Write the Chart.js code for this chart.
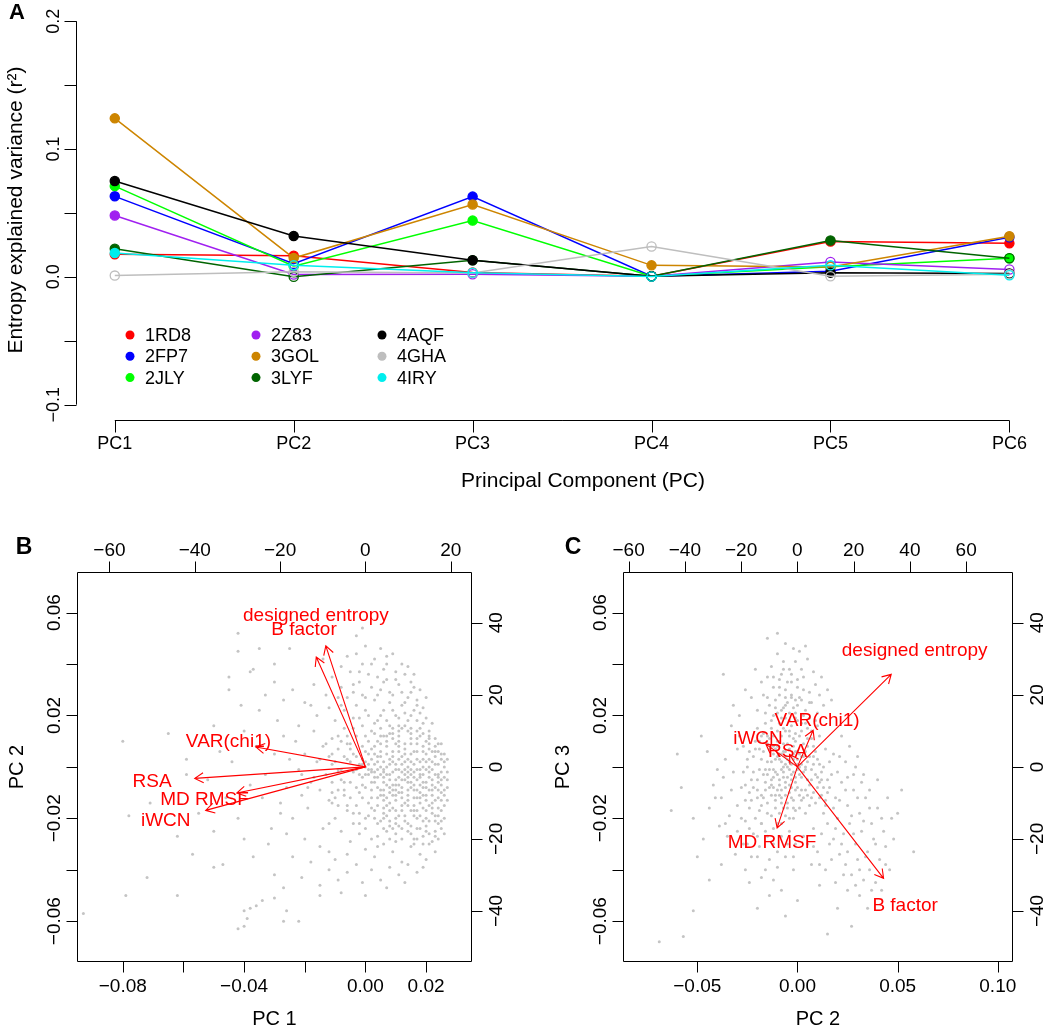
<!DOCTYPE html>
<html>
<head>
<meta charset="utf-8">
<script src="https://cdn.jsdelivr.net/npm/chart.js@4.4.1/dist/chart.umd.min.js"></script>
<style>
  body { margin: 0; background: #fff; }
  #wrap { position: relative; width: 1050px; height: 1028px; }
  canvas { position: absolute; }
</style>
</head>
<body>
<div id="wrap">
  <canvas id="chartA" width="1050" height="510" style="left:0;top:0;"></canvas>
  <canvas id="chartB" width="525" height="508" style="left:0;top:520px;"></canvas>
  <canvas id="chartC" width="525" height="508" style="left:525px;top:520px;"></canvas>
</div>
<script>
// ---------- panel A data ----------
const pcLabels = ['PC1', 'PC2', 'PC3', 'PC4', 'PC5', 'PC6'];
const structures = ['1RD8', '2FP7', '2JLY', '2Z83', '3GOL', '3LYF', '4AQF', '4GHA', '4IRY'];
const seriesColors = ['#ff0000', '#0000ff', '#00ff00', '#a020f0', '#cd8500', '#006400', '#000000', '#bebebe', '#00eeee'];

const r2_1RD8 = [0.0176, 0.0165, 0.0035, 0.0005, 0.0277, 0.0262];
const r2_2FP7 = [0.0630, 0.0103, 0.0628, 0.0005, 0.0044, 0.0310];
const r2_2JLY = [0.0710, 0.0083, 0.0440, 0.0005, 0.0080, 0.0145];
const r2_2Z83 = [0.0480, 0.0018, 0.0020, 0.0005, 0.0116, 0.0057];
const r2_3GOL = [0.1240, 0.0147, 0.0566, 0.0090, 0.0077, 0.0318];
const r2_3LYF = [0.0220, 0.0000, 0.0130, 0.0005, 0.0284, 0.0145];
const r2_4AQF = [0.0750, 0.0320, 0.0130, 0.0005, 0.0033, 0.0026];
const r2_4GHA = [0.0010, 0.0040, 0.0030, 0.0238, 0.0005, 0.0020];
const r2_4IRY = [0.0186, 0.0090, 0.0033, 0.0003, 0.0090, 0.0013];

// 1 = filled dot, 0 = open circle
const sig_1RD8 = [1, 1, 0, 0, 1, 1];
const sig_2FP7 = [1, 0, 1, 0, 0, 1];
const sig_2JLY = [1, 0, 1, 0, 0, 1];
const sig_2Z83 = [1, 0, 0, 0, 0, 0];
const sig_3GOL = [1, 1, 1, 1, 0, 1];
const sig_3LYF = [1, 0, 0, 0, 1, 0];
const sig_4AQF = [1, 1, 1, 0, 1, 0];
const sig_4GHA = [0, 0, 0, 0, 0, 0];
const sig_4IRY = [1, 0, 0, 0, 0, 0];

const yTicksA = [-0.1, -0.05, 0, 0.05, 0.1, 0.15, 0.2];
const yLabelsA = [-0.1, 0, 0.1, 0.2];

// ---------- panels B / C data ----------
const loadingNames = ['designed entropy', 'B factor', 'VAR(chi1)', 'RSA', 'MD RMSF', 'iWCN'];
const loadB_pc1 = [-11.6, -14.4, -32.1, -50.0, -37.7, -46.8];
const loadB_pc2 = [42.0, 38.1, 6.9, -4.0, -9.1, -15.1];
const loadC_pc2 = [41.7, 38.3, 7.0, -3.5, -9.0, -14.0];
const loadC_pc3 = [32.1, -38.7, 12.7, 4.3, -21.2, 7.9];

const xTicksB = [-0.08, -0.06, -0.04, -0.02, 0, 0.02];
const xLabelsB = [-0.08, -0.04, 0, 0.02];
const xTicksC = [-0.05, 0, 0.05, 0.1];
const yTicksBC = [-0.06, -0.04, -0.02, 0, 0.02, 0.04, 0.06];
const yLabelsBC = [-0.06, -0.02, 0.02, 0.06];
const topTicksB = [-60, -40, -20, 0, 20];
const topTicksC = [-60, -40, -20, 0, 20, 40, 60];
const rightTicksBC = [-40, -20, 0, 20, 40];

// residue scores, in thousandths: [PC1, PC2]
const scoresB = [
  [2,3],[4,-1],[6,2],[8,-3],[10,1],[12,-2],[14,0],[16,-4],[18,2],[20,-1],[22,-5],[24,1],[3,-6],[5,-9],[7,-12],[9,-7],[11,-10],[13,-14],[15,-8],[17,-12],
  [19,-16],[21,-9],[23,-13],[25,-7],[1,5],[3,8],[5,6],[7,10],[9,4],[11,8],[13,5],[15,9],[17,6],[19,3],[21,7],[23,4],[25,-2],[2,-12],[4,-15],[6,-18],
  [8,-14],[10,-20],[12,-17],[14,-22],[16,-19],[18,-24],[20,-20],[22,-18],[24,-22],[26,-15],[1,-3],[3,1],[5,-3],[7,0],[9,-2],[11,3],[13,-5],[15,2],[17,-1],[19,-6],
  [21,0],[23,-3],[25,3],[0,-8],[2,-9],[6,-6],[8,-10],[10,-5],[12,-8],[14,-11],[16,-9],[18,-10],[20,-13],[22,-11],[24,-9],[26,-4],[5,12],[8,13],[11,12],[14,14],
  [17,11],[20,10],[23,8],[4,-22],[7,-25],[11,-23],[15,-26],[19,-27],[23,-25],[26,-20],[13,-1],[15,-3],[17,3],[19,-3],[21,-4],[22,2],[24,-12],[18,-7],[16,-15],[14,-6],
  [12,4],[10,-13],[9,6],[6,-1],[4,4],[20,5],[24,6],[25,-10],[21,-15],[18,-19],[15,-17],[12,-12],[10,9],[7,5],[3,-2],[1,-14],[0,2],[-1,-4],[19,8],[22,-7],
  [17,-20],[13,-19],[9,-16],[6,-13],[16,6],[26,0],[25,-17],[23,-19],[20,-23],[27,-8],[14,3],[11,-4],[8,1],[5,-11],
  [1,1],[3,-4],[5,0],[7,-7],[9,2],[11,-1],[13,2],[15,-6],[17,-9],[19,0],[21,3],[23,-8],[25,5],[2,7],[4,10],[6,-16],[8,-21],[10,-17],[12,-24],[14,-15],
  [16,-12],[18,-14],[20,-17],[22,-14],[24,-16],[26,-11],[27,-2],[26,5],[24,9],[22,6],[20,-8],[18,-4],[16,1],[14,-9],[12,-5],[10,-9],[8,-5],[6,-9],[4,-8],[2,-6],
  [0,-3],[-1,3],[1,10],[3,13],[5,15],[7,-19],[9,-24],[11,-19],[13,-21],[15,-23],[17,-24],[19,-21],[21,-21],[23,-21],[25,-24],[27,-13],[21,-26],[11,6],[13,9],[15,5],
  [17,-17],[19,-11],[9,-11],[7,-15],[5,-21],[3,-17],[1,-19],[-2,-10],[-3,-15],[-4,5],[-5,-6],[-6,9],[-7,-11],[-8,-1],[-9,12],[-10,-12],[-11,1],[-12,-22],[6,12],[9,11],
  [12,15],[15,13],[18,12],[21,11],[24,-4],[26,-26],[22,-29],[16,-30],[10,-26],[4,-31],
  [13,-3],[15,-1],[17,-5],[19,-8],[21,-2],[23,1],[25,-5],[11,-7],[9,-9],[7,-3],[14,-13],[16,-17],[18,-12],[20,-11],[22,-16],[24,-19],[12,-15],[10,-11],[8,-17],[6,-11],
  [13,7],[15,11],[17,9],[19,6],[21,9],[23,6],[11,10],[9,13],[7,8],[5,4],[14,-25],[17,-28],[20,-25],[23,-27],[25,-21],[19,-30],[12,-28],[8,-28],[6,-24],[3,-20],
  [1,-1],[-1,1],[0,6],[2,-2],[4,2],[6,-4],[8,3],[10,-1],[12,1],[14,-4],[16,-2],[18,-1],[20,2],[22,-1],[24,-3],[26,2],[3,5],[5,9],[7,12],[9,15],
  [11,14],[13,16],[15,15],[17,14],[19,13],[21,12],[23,11],[25,9],[27,3],[27,-5],[26,-9],[25,-13],[24,-6],[22,-9],[20,-6],[18,-3],[16,-7],[14,-2],[12,-10],[10,-7],
  [8,-8],[6,-2],[4,-4],[2,-1],[0,0],[-2,-3],[-3,-1],[-5,2],[-7,-6],[-9,-9],[-11,-14],[-6,-15],[-4,-18],[-2,-22],[0,-24],[2,-16],[4,-12],[6,-20],[8,-23],[10,-22],
  [-1,-7],[-3,4],[-5,7],[-7,4],[-9,-1],[-11,5],[-13,9],[-15,3],[-17,-4],[-19,-8],[-21,-3],[-8,10],[-6,12],[-4,15],[-2,19],[0,22],[3,17],[5,20],[7,18],[9,22],
  [11,19],[13,25],[15,20],[17,24],[19,17],[8,29],[4,28],[0,27],[-4,29],[-8,24],[12,29],[16,31],[20,27],[10,34],[6,33],[2,40],[-2,37],[7,43],[14,39],[18,21],
  [-2,1],[-4,-2],[-6,3],[-8,-5],[-10,2],[-3,-8],[-5,-12],[-7,-9],[-9,-15],[-11,-6],[-1,8],[-3,12],[-5,9],[-7,15],[-9,7],[-11,11],[-2,-18],[-4,-22],[-6,-17],[-8,-25],
  [-10,-20],[-12,-13],[-1,16],[-4,19],[-7,22],[-10,18],[-12,4],[-2,-26],[-5,-29],[-3,24],[-6,27],[-9,-2],[-11,-10],[0,12],[0,-20],[1,20],[2,-28],[-1,-12],[-13,-3],[-14,8],
  [-15,-9],[-16,2],[-17,14],[-18,-6],[-19,-16],[-20,5],[-21,-11],[-22,-1],[-23,10],[-24,-20],[-14,-24],[-16,20],[-18,24],[-20,-28],[-22,16],[-13,28],[-15,-31],[-25,3],[-26,-8],[-27,12],
  [-28,-14],[-12,-33],[-8,31],[-4,32],[-1,28],[-6,-34],[-10,-36],
  [2,14],[4,18],[6,22],[8,16],[10,20],[12,24],[14,18],[16,22],[18,15],[20,19],[3,26],[5,30],[7,34],[9,28],[11,32],[13,36],[15,29],[17,26],[19,23],[21,14],
  [1,36],[-1,40],[3,42],[6,38],[9,44],[12,40],[15,33],[18,30],[-2,33],[-5,37],[-8,39],[-11,35],[-14,42],[-3,44],[0,47],[5,46],[10,37],[16,36],[14,27],[8,25],
  [2,31],[-6,43],[-17,32],[-20,25],[-12,23],[4,35],[7,40],[11,16],[13,21],[17,18],[22,17],[-9,27],
  [-42,52],[-35,46],[-25,46],[-3,51],[-1,54],[-30,40],[-38,37],[-45,30],[-33,28],
  [0,-32],[3,-35],[6,-30],[9,-33],[12,-37],[15,-31],[18,-34],[21,-30],[24,-28],[2,-40],[5,-44],[8,-39],[11,-42],[14,-38],[17,-41],[20,-36],[-3,-38],[-6,-41],[-9,-44],[-12,-40],
  [-15,-46],[-18,-37],[7,-47],[13,-45],[19,-39],[23,-33],[-1,-45],[4,-27],[10,-29],[16,-28],[-21,-43],[-24,-35],[-27,-47],[-30,-42],[-8,-49],[0,-50],[-30,-51],[-34,-52],[-40,-56],[-26,-56],
  [-22,-60],[-40,-62],
  [-42,45],[-45,35],[-37,38],[-41,24],[-50,16],[-65,13],[-80,10],[-59,3],[-59,-3],[-71,-14],[-78,-19],[-62,-27],[-57,-34],[-50,-39],[-47,-38],[-72,-43],[-79,-50],[-62,-50],[-93,-57],[-42,-63],
  [-38,-55],[-36,-54],[-27,-60],[-15,-50],[-39,-59],
  [-30,5],[-33,-3],[-36,8],[-28,-18],[-31,-24],[-34,-12],[-38,-7],[-40,14],[-42,-20],[-44,2],[-29,18],[-32,-30],[-37,-35],[-26,-26],[-35,22],[-40,-28],[-46,-12],[-48,6],[-52,-5],[-50,-25],
  [-55,-18],[-53,12],[-27,26],[-24,30],[-30,33]
];

// residue scores, in thousandths: [PC2, PC3]
const scoresC = [
  [-5,0],[-3,4],[-8,2],[-10,-3],[-6,-6],[-2,-2],[0,3],[2,-4],[4,6],[-12,5],[-14,-1],[-16,-6],[-18,3],[-7,9],[-4,12],[-1,10],[2,14],[5,11],[8,8],[10,3],
  [12,-2],[-20,-9],[-22,-2],[-11,-11],[-8,-14],[-4,-10],[0,-8],[3,-12],[6,-7],[9,-3],[-15,-14],[-19,-17],[-13,-19],[-9,-18],[-5,-16],[-2,-20],[1,-16],[-24,6],[-21,10],[-17,13],
  [-13,15],[-9,17],[-6,19],[-3,16],[0,18],[4,17],[7,14],[11,12],[14,7],[13,0],[15,-5],[-1,6],[-6,4],[-9,-7],[-12,-1],[-3,-5],[1,0],[-7,-2],[-10,8],[-15,9],
  [-4,7],[-2,-13],[-17,-3],[-23,-13],[-25,0],[5,2],[7,-1],[3,9],[-8,12],[-11,-16],[-14,11],[-6,-11],[-1,-4],[8,-10],[11,-6],[6,-15],[2,-9],[-16,17],[-20,15],[10,16],
  [-12,-8],[-5,3],[-3,1],[-9,5],[-7,-4],[0,-1],[-2,8],[-18,-11],[-21,-20],[-24,-16],[4,-18],[9,-14],[12,-11],[14,-15],[16,2],[-26,-7],[-27,8],[-10,14],[-13,-5],[-6,14],
  [3,-2],[-1,13],[-4,-7],[-8,-9],[-15,2],[5,-5],[8,4],[1,5],[-11,3],[-19,7],
  [-4,-1],[-6,1],[-8,-1],[-10,4],[-12,-4],[-2,3],[0,6],[2,1],[-5,9],[-7,6],[-9,-5],[-11,7],[-13,2],[-16,-1],[-3,-8],[-1,-6],[1,-3],[4,-1],[6,4],[-6,-8],
  [-8,-12],[-10,-9],[-14,-8],[-17,-12],[-20,-5],[-22,4],[-19,10],[-14,7],[-12,12],[-9,10],[-7,15],[-4,14],[-2,11],[1,12],[3,4],[5,8],[8,1],[10,-4],[13,-8],[11,-12],
  [7,-12],[4,-9],[1,-11],[-2,-16],[-6,-19],[-10,-22],[-15,-18],[-18,-22],[-24,-10],[-4,18],[-8,19],[-12,20],[-1,21],[3,20],[6,19],[9,18],[-6,24],[-3,27],[0,24],[-9,28],
  [-5,33],
  [-3,-3],[-5,-4],[-7,0],[-9,3],[-11,-2],[-13,-7],[-15,-3],[-4,2],[-6,6],[-8,5],[-10,10],[-12,8],[-2,5],[0,1],[2,4],[4,0],[-1,-9],[-3,-12],[-5,-14],[-7,-16],
  [-9,-11],[-11,-13],[-13,-11],[-16,-9],[-18,-15],[-20,-12],[-22,-8],[-19,-1],[-17,6],[-15,12],[-13,18],[-10,21],[-7,23],[-4,21],[-1,19],[2,17],[5,15],[7,11],[9,6],[11,1],
  [12,-5],[10,-8],[7,-5],[5,-11],[2,-13],[-1,-17],[-4,-20],[-8,-22],[-12,-24],[-16,-25],[-20,-27],[-24,-24],[-28,-20],[-26,-13],[-23,-5],[-25,3],[-21,7],[-18,12],[-16,21],[-11,23],
  [-9,31],[-6,27],[-3,36],[0,34],[-12,35],[-7,38],[3,30],[6,25],[-1,26],[-15,27],
  [-8,22],[-5,25],[-2,23],[1,27],[4,22],[7,25],[10,21],[-11,26],[-14,24],[-17,28],[-6,30],[-3,33],[0,31],[3,35],[6,29],[9,32],[-9,34],[-12,31],[-15,35],[-4,38],
  [-1,41],[2,38],[5,42],[-7,41],[-10,44],[-13,39],[8,37],[11,28],[13,24],[-20,22],[-23,27],[-2,46],[-6,48],[1,45],[-15,50],[-10,52],[4,47],[-18,33],[-21,38],[-26,30],
  [12,35],[15,30],[17,26],[-37,36],[-32,24],[-29,20],[-3,28],[2,26],[-8,36],
  [16,-8],[19,-12],[22,-6],[25,-15],[28,-9],[31,-18],[34,-12],[37,-22],[40,-16],[43,-25],[20,-20],[23,-26],[26,-22],[29,-30],[32,-25],[35,-33],[38,-28],[41,-36],[44,-31],[47,-20],
  [18,-28],[21,-34],[24,-38],[27,-42],[30,-36],[33,-44],[36,-40],[15,-22],[12,-26],[17,-36],[14,-40],[10,-33],[20,-2],[24,2],[28,-3],[32,-6],[36,-9],[40,-5],[45,-12],[50,-18],
  [48,-28],[52,-9],[58,-33],[46,-40],[26,8],[30,4],[22,12],[18,5],[39,-45],[42,-48],[31,-50],[25,-48],[19,-45],[11,-46],[7,-38],[5,-30],[8,-24],[3,-27],[27,-62],[15,-65],
  [20,-55],[35,-55],
  [15,-10],[18,-16],[21,-13],[24,-9],[27,-19],[30,-12],[33,-21],[36,-16],[39,-30],[42,-20],[19,-24],[22,-30],[25,-33],[28,-26],[31,-40],[34,-35],[13,-18],[16,-30],[11,-38],[8,-31],
  [23,-42],[29,-46],[37,-48],[44,-38],[14,-13],[17,-3],[21,4],[25,-4],[29,0],[33,-3],
  [-18,-22],[-22,-26],[-26,-21],[-30,-15],[-34,-19],[-38,-12],[-42,-7],[-27,-30],[-31,-34],[-35,-27],[-39,-23],[-44,-16],[-47,-28],[-23,-35],[-19,-31],[-15,-27],[-12,-30],[-8,-27],[-4,-25],[-1,-30],
  [-6,-35],[-10,-39],[-14,-36],[-28,-8],[-32,-2],[-36,3],[-40,-1],[-45,6],[-29,12],[-33,16],[-26,-40],[-18,-43],[-38,-38],[-50,-35],[-44,-44],[-2,-40],[-8,-48],[-14,-50],[0,-52],[-20,-55],
  [-6,-58],[-52,-56],[-57,-66],[-69,-68],[-63,-17],[-60,5],[-58,-8],[-48,12],[-52,-20],
  [-20,-35],[-25,-30],[-30,-25],[-36,-22],[-41,-12],[-33,-9],[-37,-4],[-27,-2],[-30,7],[-24,-45],[-16,-40],[-10,-33],[-5,-30],[-2,-35],[-12,-44]
];

// ---------- helpers ----------
const FONT = '"Liberation Sans", Arial, Helvetica, sans-serif';

function fmtNum(v, digits) {
  const s = Math.abs(v).toFixed(digits);
  return (v < -1e-9 ? '\u2212' : '') + s;
}

function rotText(ctx, text, x, y) {
  ctx.save();
  ctx.translate(x, y);
  ctx.rotate(-Math.PI / 2);
  ctx.fillText(text, 0, 0);
  ctx.restore();
}

function crisp(v) {
  return Math.round(v) + 0.5;
}

function drawArrow(ctx, x0, y0, x1, y1, len) {
  const a = Math.atan2(y1 - y0, x1 - x0);
  ctx.beginPath();
  ctx.moveTo(x0, y0);
  ctx.lineTo(x1, y1);
  ctx.moveTo(x1 - len * Math.cos(a - Math.PI / 6), y1 - len * Math.sin(a - Math.PI / 6));
  ctx.lineTo(x1, y1);
  ctx.lineTo(x1 - len * Math.cos(a + Math.PI / 6), y1 - len * Math.sin(a + Math.PI / 6));
  ctx.stroke();
}

// ---------- panel A ----------
const r2Series = [r2_1RD8, r2_2FP7, r2_2JLY, r2_2Z83, r2_3GOL, r2_3LYF, r2_4AQF, r2_4GHA, r2_4IRY];
const sigSeries = [sig_1RD8, sig_2FP7, sig_2JLY, sig_2Z83, sig_3GOL, sig_3LYF, sig_4AQF, sig_4GHA, sig_4IRY];

const decoA = {
  id: 'decoA',
  afterDraw(chart) {
    const ctx = chart.ctx;
    const xs = chart.scales.x, ys = chart.scales.y;
    ctx.save();
    ctx.strokeStyle = '#000';
    ctx.fillStyle = '#000';
    ctx.lineWidth = 1;

    // y axis
    const ax = crisp(chart.chartArea.left - 3);
    ctx.beginPath();
    ctx.moveTo(ax, ys.getPixelForValue(yTicksA[0]));
    ctx.lineTo(ax, ys.getPixelForValue(yTicksA[yTicksA.length - 1]));
    yTicksA.forEach(v => {
      const y = crisp(ys.getPixelForValue(v));
      ctx.moveTo(ax, y);
      ctx.lineTo(ax - 12, y);
    });
    ctx.stroke();
    ctx.font = '18px ' + FONT;
    ctx.textAlign = 'center';
    ctx.textBaseline = 'middle';
    yLabelsA.forEach(v => rotText(ctx, fmtNum(v, 1), 54, ys.getPixelForValue(v)));

    // x axis
    const ay = crisp(chart.chartArea.bottom);
    ctx.beginPath();
    ctx.moveTo(xs.getPixelForValue(1), ay);
    ctx.lineTo(xs.getPixelForValue(pcLabels.length), ay);
    pcLabels.forEach((lab, i) => {
      const x = crisp(xs.getPixelForValue(i + 1));
      ctx.moveTo(x, ay);
      ctx.lineTo(x, ay + 12);
    });
    ctx.stroke();
    pcLabels.forEach((lab, i) => ctx.fillText(lab, xs.getPixelForValue(i + 1), ay + 24));

    // titles
    ctx.font = '21px ' + FONT;
    ctx.fillText('Principal Component (PC)', 583, 481);
    rotText(ctx, 'Entropy explained variance (r\u00b2)', 16, 210);
    ctx.font = 'bold 22px ' + FONT;
    ctx.fillText('A', 17, 13);

    // legend, three columns
    ctx.font = '18px ' + FONT;
    ctx.textAlign = 'left';
    structures.forEach((name, i) => {
      const col = Math.floor(i / 3), row = i % 3;
      const cx = 130 + col * 126, cy = 335 + row * 21.3;
      ctx.beginPath();
      ctx.arc(cx, cy, 4.5, 0, Math.PI * 2);
      ctx.fillStyle = seriesColors[i];
      ctx.fill();
      ctx.fillStyle = '#000';
      ctx.fillText(name, cx + 15, cy + 1);
    });
    ctx.restore();
  }
};

new Chart(document.getElementById('chartA'), {
  type: 'line',
  data: {
    datasets: structures.map((name, i) => ({
      label: name,
      data: r2Series[i].map((v, j) => ({ x: j + 1, y: v })),
      borderColor: seriesColors[i],
      borderWidth: 1.5,
      pointRadius: 4.6,
      pointBorderWidth: 1.3,
      pointBorderColor: seriesColors[i],
      pointBackgroundColor: sigSeries[i].map(s => s ? seriesColors[i] : 'rgba(0,0,0,0)'),
      tension: 0,
      order: -i,
      clip: false
    }))
  },
  options: {
    responsive: false,
    animation: false,
    layout: { padding: { left: 79, right: 0, top: 2, bottom: 90 } },
    plugins: { legend: { display: false }, tooltip: { enabled: false } },
    scales: {
      x: { type: 'linear', display: false, min: 0.8, max: 6.194 },
      y: { type: 'linear', display: false, min: -0.112, max: 0.212 }
    }
  },
  plugins: [decoA]
});

// ---------- panels B and C ----------
const biplotDeco = {
  id: 'biplotDeco',
  afterDatasetsDraw(chart, args, o) {
    const ctx = chart.ctx;
    const s = chart.scales;
    ctx.save();
    ctx.strokeStyle = '#ff0000';
    ctx.fillStyle = '#ff0000';
    ctx.lineWidth = 1.1;
    const ox = s.x2.getPixelForValue(0), oy = s.y2.getPixelForValue(0);
    ctx.font = '19px ' + FONT;
    ctx.textAlign = 'center';
    ctx.textBaseline = 'middle';
    o.names.forEach((name, i) => {
      const tx = s.x2.getPixelForValue(0.8 * o.loadX[i]);
      const ty = s.y2.getPixelForValue(0.8 * o.loadY[i]);
      drawArrow(ctx, ox, oy, tx, ty, 10);
    });
    o.names.forEach((name, i) => {
      ctx.fillText(name, s.x2.getPixelForValue(o.loadX[i]), s.y2.getPixelForValue(o.loadY[i]));
    });
    ctx.restore();
  },
  afterDraw(chart, args, o) {
    const ctx = chart.ctx;
    const s = chart.scales;
    const a = chart.chartArea;
    const L = crisp(a.left), R = crisp(a.right), T = crisp(a.top), B = crisp(a.bottom);
    ctx.save();
    ctx.strokeStyle = '#000';
    ctx.fillStyle = '#000';
    ctx.lineWidth = 1;
    ctx.beginPath();
    ctx.rect(L, T, R - L, B - T);
    o.xTicks.forEach(v => { const x = crisp(s.x.getPixelForValue(v)); ctx.moveTo(x, B); ctx.lineTo(x, B + 11); });
    o.yTicks.forEach(v => { const y = crisp(s.y.getPixelForValue(v)); ctx.moveTo(L, y); ctx.lineTo(L - 11, y); });
    o.topTicks.forEach(v => { const x = crisp(s.x2.getPixelForValue(v)); ctx.moveTo(x, T); ctx.lineTo(x, T - 11); });
    o.rightTicks.forEach(v => { const y = crisp(s.y2.getPixelForValue(v)); ctx.moveTo(R, y); ctx.lineTo(R + 11, y); });
    ctx.stroke();

    ctx.font = '19px ' + FONT;
    ctx.textAlign = 'center';
    ctx.textBaseline = 'middle';
    o.xLabels.forEach(v => ctx.fillText(fmtNum(v, 2), s.x.getPixelForValue(v), B + 25));
    o.yLabels.forEach(v => rotText(ctx, fmtNum(v, 2), L - 23, s.y.getPixelForValue(v)));
    o.topTicks.forEach(v => ctx.fillText(fmtNum(v, 0), s.x2.getPixelForValue(v), T - 22));
    o.rightTicks.forEach(v => rotText(ctx, fmtNum(v, 0), R + 25, s.y2.getPixelForValue(v)));

    ctx.font = '20px ' + FONT;
    ctx.fillText(o.xTitle, (L + R) / 2, B + 58);
    rotText(ctx, o.yTitle, L - 60, (T + B) / 2);
    ctx.font = 'bold 23px ' + FONT;
    ctx.fillText(o.letter, o.letterX, 28);
    ctx.restore();
  }
};

function biplot(canvasId, scores, pad, ranges, deco) {
  return new Chart(document.getElementById(canvasId), {
    type: 'scatter',
    data: {
      datasets: [{
        data: scores.map(p => ({ x: p[0] / 1000, y: p[1] / 1000 })),
        pointRadius: 1.5,
        pointBorderWidth: 0,
        pointBackgroundColor: '#c4c4c4',
        pointBorderColor: '#c4c4c4'
      }]
    },
    options: {
      responsive: false,
      animation: false,
      layout: { padding: pad },
      plugins: { legend: { display: false }, tooltip: { enabled: false }, biplotDeco: deco },
      scales: {
        x: { type: 'linear', display: false, min: ranges.x[0], max: ranges.x[1] },
        y: { type: 'linear', display: false, min: ranges.y[0], max: ranges.y[1] },
        x2: { type: 'linear', display: false, position: 'top', min: ranges.x2[0], max: ranges.x2[1] },
        y2: { type: 'linear', display: false, position: 'right', min: ranges.y2[0], max: ranges.y2[1] }
      }
    },
    plugins: [biplotDeco]
  });
}

biplot('chartB', scoresB,
  { left: 77, right: 54, top: 52, bottom: 67 },
  { x: [-0.0951, 0.0348], y: [-0.0755, 0.0758], x2: [-67.6, 24.75], y2: [-53.9, 54.1] },
  {
    xTicks: xTicksB, xLabels: xLabelsB, yTicks: yTicksBC, yLabels: yLabelsBC,
    topTicks: topTicksB, rightTicks: rightTicksBC,
    xTitle: 'PC 1', yTitle: 'PC 2', letter: 'B', letterX: 24,
    names: loadingNames, loadX: loadB_pc1, loadY: loadB_pc2
  });

biplot('chartC', scoresC,
  { left: 98, right: 38, top: 52, bottom: 67 },
  { x: [-0.0871, 0.1071], y: [-0.0755, 0.0758], x2: [-62.0, 76.3], y2: [-53.9, 54.1] },
  {
    xTicks: xTicksC, xLabels: xTicksC, yTicks: yTicksBC, yLabels: yLabelsBC,
    topTicks: topTicksC, rightTicks: rightTicksBC,
    xTitle: 'PC 2', yTitle: 'PC 3', letter: 'C', letterX: 48,
    names: loadingNames, loadX: loadC_pc2, loadY: loadC_pc3
  });
</script>
</body>
</html>
